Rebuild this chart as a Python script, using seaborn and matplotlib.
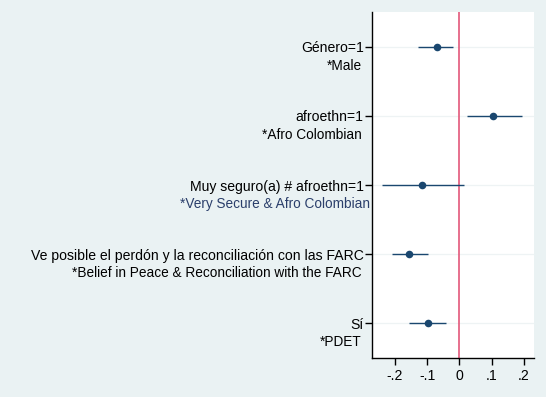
import numpy as np
import pandas as pd
import matplotlib
matplotlib.use("Agg")
import matplotlib.pyplot as plt
import seaborn as sns

# Coefficient estimates
labels = ["Género=1", "afroethn=1", "Muy seguro(a) # afroethn=1",
          "Ve posible el perdón y la reconciliación con las FARC", "Sí"]
notes = ["*Male", "*Afro Colombian", "*Very Secure & Afro Colombian",
         "*Belief in Peace & Reconciliation with the FARC", "*PDET"]
coef = [-0.071, 0.105, -0.115, -0.155, -0.099]
ci_low = [-0.127, 0.022, -0.241, -0.210, -0.155]
ci_high = [-0.019, 0.195, 0.015, -0.099, -0.043]
xticks = [-0.2, -0.1, 0, 0.1, 0.2]
xticklabels = ["-.2", "-.1", "0", ".1", ".2"]

df = pd.DataFrame({"label": labels, "coef": coef, "lo": ci_low, "hi": ci_high})
df["pos"] = np.arange(1, len(df) + 1)

sns.set_style("white")
plt.rcParams["font.family"] = ["Liberation Sans", "DejaVu Sans"]

bg = "#eaf2f3"
navy = "#1a476f"
fs = 10.1

fig = plt.figure(figsize=(5.46, 3.97), dpi=100, facecolor=bg)
ax = fig.add_axes([372 / 546, 1 - 358 / 397, 162 / 546, 346 / 397])
ax.set_facecolor("white")

# light grid lines at each coefficient
for p in df["pos"]:
    ax.axhline(p, color="#eef3f4", lw=0.9, zorder=0)

ax.axvline(0, color="#e3587a", lw=1.2, zorder=1)
ax.hlines(df["pos"], df["lo"], df["hi"], color=navy, lw=1.0, zorder=2)
sns.scatterplot(data=df, x="coef", y="pos", ax=ax, color=navy, s=30,
                edgecolor=navy, linewidth=0, zorder=3, legend=False)

ax.set_xlim(-0.271, 0.231)
ax.set_ylim(5.5, 0.5)
ax.set_xticks(xticks)
ax.set_xticklabels(xticklabels, fontsize=fs)
ax.set_yticks(df["pos"])
ax.set_yticklabels(labels, fontsize=fs)
ax.set_xlabel("")
ax.set_ylabel("")

for side in ["top", "right"]:
    ax.spines[side].set_visible(False)
for side in ["left", "bottom"]:
    ax.spines[side].set_color("black")
    ax.spines[side].set_linewidth(1.0)
ax.tick_params(axis="y", direction="out", length=5, width=1, color="black",
               labelcolor="black", pad=1, left=True)
ax.tick_params(axis="x", direction="out", length=5, width=1, color="black",
               labelcolor="black", pad=3, bottom=True)

# second-line notes under each label
for p, note in zip(df["pos"], notes):
    col = "#2b3f6b" if note.startswith("*Very") else "black"
    xoff = -2 if note.startswith("*Very") else -10
    ax.annotate(note, xy=(0, p), xycoords=("axes fraction", "data"),
                xytext=(xoff, -19), textcoords="offset pixels",
                ha="right", va="center", fontsize=9.85, color=col)

fig.savefig("out.png", dpi=100, facecolor=bg)
